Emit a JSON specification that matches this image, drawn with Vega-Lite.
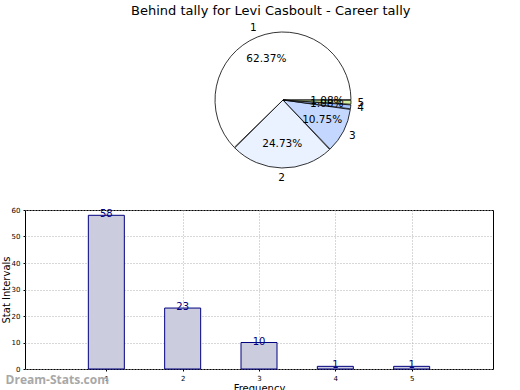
{
  "$schema": "https://vega.github.io/schema/vega-lite/v6.json",
  "padding": {"left": 0, "top": 5, "right": 0, "bottom": 0},
  "background": "white",
  "config": {
    "font": "DejaVu Sans",
    "view": {"stroke": null}
  },
  "title": {"text": "Behind tally for Levi Casboult - Career tally", "fontSize": 13, "fontWeight": "normal", "font": "DejaVu Sans", "anchor": "middle", "offset": 2, "color": "black"},
  "datasets": {
    "tally": [
      {"freq": 1, "cat": "1", "count": 58, "pct": "62.37%"},
      {"freq": 2, "cat": "2", "count": 23, "pct": "24.73%"},
      {"freq": 3, "cat": "3", "count": 10, "pct": "10.75%"},
      {"freq": 4, "cat": "4", "count": 1, "pct": "1.08%"},
      {"freq": 5, "cat": "5", "count": 1, "pct": "1.08%"}
    ]
  },
  "spacing": 21,
  "vconcat": [
    {
      "width": 516,
      "height": 160,
      "view": {"stroke": null},
      "data": {"name": "tally"},
      "encoding": {
        "theta": {"field": "count", "type": "quantitative", "stack": true, "scale": {"range": [1.5708, 7.854]}},
        "order": {"field": "freq", "type": "quantitative", "sort": "descending"}
      },
      "layer": [
        {
          "mark": {"type": "arc", "outerRadius": 68, "stroke": "black", "strokeWidth": 0.8, "padAngle": 0.01},
          "encoding": {
            "color": {"field": "cat", "type": "nominal", "legend": null,
              "scale": {"domain": ["1", "2", "3", "4", "5"], "range": ["#ffffff", "#eaf1ff", "#c4d8ff", "#a8c4ff", "#d4eea0"]}}
          }
        },
        {
          "mark": {"type": "text", "radius": 44, "fontSize": 10.5, "color": "black"},
          "encoding": {"text": {"field": "pct", "type": "nominal"}}
        },
        {
          "mark": {"type": "text", "radius": 78, "fontSize": 10.5, "color": "black"},
          "encoding": {"text": {"field": "cat", "type": "nominal"}}
        }
      ]
    },
    {
      "width": 468,
      "height": 159,
      "view": {"stroke": "black", "strokeWidth": 1},
      "layer": [
        {
          "data": {"name": "tally"},
          "encoding": {
            "x": {"field": "freq", "type": "quantitative",
              "scale": {"domain": [0, 6], "nice": false, "zero": false},
              "axis": {"values": [1, 2, 3, 4, 5], "format": "d", "title": "Frequency", "titleFontSize": 10, "titleFontWeight": "normal", "titlePadding": 2,
                "labelFontSize": 7, "labelPadding": 3, "tickSize": 2, "tickColor": "black", "domain": false, "labelOverlap": false,
                "grid": true, "gridDash": [1, 2], "gridColor": "#b0b0b0", "gridWidth": 1, "labelColor": "black", "titleColor": "black"}},
            "y": {"field": "count", "type": "quantitative",
              "scale": {"domain": [0, 60], "nice": false},
              "axis": {"values": [0, 10, 20, 30, 40, 50, 60], "format": "d", "title": "Stat Intervals", "titleFontSize": 10, "titleFontWeight": "normal", "titlePadding": 3,
                "labelFontSize": 7, "labelPadding": 3, "tickSize": 2, "tickColor": "black", "domain": false, "minExtent": 11, "maxExtent": 11, "labelOverlap": false, "labelBound": false,
                "grid": true, "gridDash": [1, 2], "gridColor": "#b0b0b0", "gridWidth": 1, "labelColor": "black", "titleColor": "black"}}
          },
          "layer": [
            {
              "mark": {"type": "bar", "size": 36, "fill": "#ccccdf", "stroke": "#000080", "strokeWidth": 1}
            },
            {
              "mark": {"type": "text", "baseline": "bottom", "dy": 4, "fontSize": 10, "color": "#000080"},
              "encoding": {"text": {"field": "count", "type": "quantitative"}}
            }
          ]
        },
        {
          "data": {"values": [{"label": "Dream-Stats.com", "fx": -0.32, "fy": -4.15}]},
          "mark": {"type": "text", "align": "left", "baseline": "middle", "fontSize": 12, "fontWeight": "bold", "color": "#a8a8a8", "font": "Open Sans"},
          "encoding": {
            "x": {"field": "fx", "type": "quantitative",
              "axis": {"values": [1, 2, 3, 4, 5], "format": "d", "title": "Frequency", "titleFontSize": 10, "titleFontWeight": "normal", "titlePadding": 2,
                "labelFontSize": 7, "labelPadding": 3, "tickSize": 2, "tickColor": "black", "domain": false, "labelOverlap": false,
                "grid": true, "gridDash": [1, 2], "gridColor": "#b0b0b0", "gridWidth": 1, "labelColor": "black", "titleColor": "black"}},
            "y": {"field": "fy", "type": "quantitative",
              "axis": {"values": [0, 10, 20, 30, 40, 50, 60], "format": "d", "title": "Stat Intervals", "titleFontSize": 10, "titleFontWeight": "normal", "titlePadding": 3,
                "labelFontSize": 7, "labelPadding": 3, "tickSize": 2, "tickColor": "black", "domain": false, "minExtent": 11, "maxExtent": 11, "labelOverlap": false, "labelBound": false,
                "grid": true, "gridDash": [1, 2], "gridColor": "#b0b0b0", "gridWidth": 1, "labelColor": "black", "titleColor": "black"}},
            "text": {"field": "label", "type": "nominal"}
          }
        }
      ]
    }
  ]
}
